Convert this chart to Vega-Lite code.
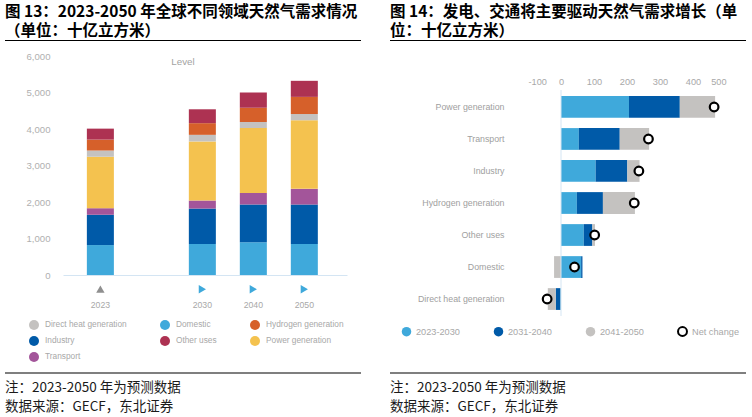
{
  "$schema": "https://vega.github.io/schema/vega-lite/v6.json",
  "padding": {"left": 5, "top": 5, "right": 5, "bottom": 0},
  "background": "white",
  "datasets": {
    "level": [
      {"year": "2023", "sector": "Domestic", "value": 820},
      {"year": "2023", "sector": "Industry", "value": 830},
      {"year": "2023", "sector": "Transport", "value": 180},
      {"year": "2023", "sector": "Power generation", "value": 1410},
      {"year": "2023", "sector": "Direct heat generation", "value": 170},
      {"year": "2023", "sector": "Hydrogen generation", "value": 300},
      {"year": "2023", "sector": "Other uses", "value": 300},
      {"year": "2030", "sector": "Domestic", "value": 850},
      {"year": "2030", "sector": "Industry", "value": 970},
      {"year": "2030", "sector": "Transport", "value": 220},
      {"year": "2030", "sector": "Power generation", "value": 1620},
      {"year": "2030", "sector": "Direct heat generation", "value": 180},
      {"year": "2030", "sector": "Hydrogen generation", "value": 320},
      {"year": "2030", "sector": "Other uses", "value": 380},
      {"year": "2040", "sector": "Domestic", "value": 900},
      {"year": "2040", "sector": "Industry", "value": 1030},
      {"year": "2040", "sector": "Transport", "value": 320},
      {"year": "2040", "sector": "Power generation", "value": 1780},
      {"year": "2040", "sector": "Direct heat generation", "value": 160},
      {"year": "2040", "sector": "Hydrogen generation", "value": 390},
      {"year": "2040", "sector": "Other uses", "value": 420},
      {"year": "2050", "sector": "Domestic", "value": 850},
      {"year": "2050", "sector": "Industry", "value": 1080},
      {"year": "2050", "sector": "Transport", "value": 430},
      {"year": "2050", "sector": "Power generation", "value": 1880},
      {"year": "2050", "sector": "Direct heat generation", "value": 170},
      {"year": "2050", "sector": "Hydrogen generation", "value": 470},
      {"year": "2050", "sector": "Other uses", "value": 440}
    ],
    "markers": [
      {"year": "2023"},
      {"year": "2030"},
      {"year": "2040"},
      {"year": "2050"}
    ],
    "growth": [
      {"sector": "Power generation", "period": "2023-2030", "value": 206},
      {"sector": "Power generation", "period": "2031-2040", "value": 154},
      {"sector": "Power generation", "period": "2041-2050", "value": 107},
      {"sector": "Transport", "period": "2023-2030", "value": 54},
      {"sector": "Transport", "period": "2031-2040", "value": 124},
      {"sector": "Transport", "period": "2041-2050", "value": 89},
      {"sector": "Industry", "period": "2023-2030", "value": 105},
      {"sector": "Industry", "period": "2031-2040", "value": 96},
      {"sector": "Industry", "period": "2041-2050", "value": 37},
      {"sector": "Hydrogen generation", "period": "2023-2030", "value": 48},
      {"sector": "Hydrogen generation", "period": "2031-2040", "value": 79},
      {"sector": "Hydrogen generation", "period": "2041-2050", "value": 97},
      {"sector": "Other uses", "period": "2023-2030", "value": 69},
      {"sector": "Other uses", "period": "2031-2040", "value": 26},
      {"sector": "Other uses", "period": "2041-2050", "value": 8},
      {"sector": "Domestic", "period": "2023-2030", "value": 61},
      {"sector": "Domestic", "period": "2031-2040", "value": 4},
      {"sector": "Domestic", "period": "2041-2050", "value": -21},
      {"sector": "Direct heat generation", "period": "2023-2030", "value": -2},
      {"sector": "Direct heat generation", "period": "2031-2040", "value": -14},
      {"sector": "Direct heat generation", "period": "2041-2050", "value": -24}
    ],
    "net": [
      {"sector": "Power generation", "net": 464},
      {"sector": "Transport", "net": 265},
      {"sector": "Industry", "net": 236},
      {"sector": "Hydrogen generation", "net": 222},
      {"sector": "Other uses", "net": 102},
      {"sector": "Domestic", "net": 41},
      {"sector": "Direct heat generation", "net": -42}
    ]
  },
  "vconcat": [
    {
      "hconcat": [
        {
          "vconcat": [
            {
              "width": 356,
              "height": 1,
              "data": {"values": []},
              "mark": "point",
              "encoding": {},
              "view": {"fill": "#000000", "stroke": null},
              "title": {
                "text": ["图 13：2023-2050 年全球不同领域天然气需求情况", "（单位：十亿立方米）"],
                "anchor": "start",
                "offset": 1
              }
            },
            {
              "width": 342,
              "height": 219,
              "title": {
                "text": "Level",
                "anchor": "middle",
                "offset": -16,
                "dx": 7,
                "font": "Liberation Sans",
                "fontSize": 9.8,
                "fontWeight": "normal",
                "color": "#a3a3a3"
              },
              "layer": [
                {
                  "data": {"name": "level"},
                  "transform": [
                    {
                      "calculate": "indexof(['Domestic', 'Industry', 'Transport', 'Power generation', 'Direct heat generation', 'Hydrogen generation', 'Other uses'], datum.sector)",
                      "as": "k"
                    }
                  ],
                  "mark": "bar",
                  "encoding": {
                    "x": {
                      "field": "year",
                      "type": "ordinal",
                      "scale": {
                        "domain": ["2023", "gap", "2030", "2040", "2050"],
                        "range": [58, 342],
                        "paddingInner": 0.47,
                        "paddingOuter": 0.52,
                        "align": 0.45
                      },
                      "axis": {
                        "title": null,
                        "labelAngle": 0,
                        "labelExpr": "datum.value === 'gap' ? '' : datum.value",
                        "domainColor": "#d4e5f3",
                        "ticks": false,
                        "labelPadding": 25,
                        "labelFontSize": 8.7,
                        "labelColor": "#a8a8a8"
                      }
                    },
                    "y": {
                      "field": "value",
                      "type": "quantitative",
                      "stack": "zero",
                      "scale": {"domain": [0, 6000], "nice": false},
                      "axis": {
                        "title": null,
                        "values": [0, 1000, 2000, 3000, 4000, 5000, 6000],
                        "format": ",.0f",
                        "offset": -58,
                        "domain": false,
                        "ticks": false,
                        "grid": false,
                        "labelOverlap": "greedy",
                        "labelSeparation": -60,
                        "labelFlush": false,
                        "labelPadding": 13,
                        "labelFontSize": 9.6,
                        "labelColor": "#b0b0b0"
                      }
                    },
                    "color": {
                      "field": "sector",
                      "type": "nominal",
                      "scale": {
                        "domain": ["Direct heat generation", "Domestic", "Hydrogen generation", "Industry", "Other uses", "Power generation", "Transport"],
                        "range": ["#c4c2c0", "#3fa9db", "#d6602a", "#005aa8", "#ad3252", "#f4c24f", "#a3559a"]
                      },
                      "legend": {
                        "title": null,
                        "orient": "none",
                        "legendX": 23,
                        "legendY": 263,
                        "columns": 3,
                        "direction": "horizontal",
                        "gridAlign": "each",
                        "symbolType": "circle",
                        "symbolSize": 100,
                        "labelFontSize": 8.3,
                        "labelColor": "#a8a8a8",
                        "labelOffset": 5,
                        "columnPadding": 32,
                        "rowPadding": 5
                      }
                    },
                    "order": {"field": "k", "type": "quantitative"}
                  }
                },
                {
                  "data": {"name": "markers"},
                  "mark": {"type": "point", "filled": true, "size": 70, "opacity": 1},
                  "encoding": {
                    "x": {"field": "year", "type": "ordinal"},
                    "y": {
                      "datum": -390,
                      "type": "quantitative",
                      "axis": {
                        "title": null,
                        "values": [0, 1000, 2000, 3000, 4000, 5000, 6000],
                        "format": ",.0f",
                        "offset": -58,
                        "domain": false,
                        "ticks": false,
                        "grid": false,
                        "labelOverlap": "greedy",
                        "labelSeparation": -60,
                        "labelFlush": false,
                        "labelPadding": 13,
                        "labelFontSize": 9.6,
                        "labelColor": "#b0b0b0"
                      }
                    },
                    "shape": {
                      "condition": {"test": "datum.year === '2023'", "value": "triangle-up"},
                      "value": "triangle-right"
                    },
                    "color": {
                      "condition": {"test": "datum.year === '2023'", "value": "#8f8f8f"},
                      "value": "#3fa9db"
                    }
                  }
                }
              ]
            }
          ],
          "spacing": 10,
          "resolve": {"scale": {"color": "independent", "fill": "independent", "stroke": "independent"}}
        },
        {
          "vconcat": [
            {
              "width": 356,
              "height": 1,
              "data": {"values": []},
              "mark": "point",
              "encoding": {},
              "view": {"fill": "#000000", "stroke": null},
              "title": {
                "text": ["图 14：发电、交通将主要驱动天然气需求增长（单", "位：十亿立方米）"],
                "anchor": "start",
                "offset": 1
              }
            },
            {
              "width": 336,
              "height": 226,
              "layer": [
                {
                  "data": {"name": "growth"},
                  "mark": "bar",
                  "encoding": {
                    "y": {
                      "field": "sector",
                      "type": "nominal",
                      "scale": {
                        "domain": ["Power generation", "Transport", "Industry", "Hydrogen generation", "Other uses", "Domestic", "Direct heat generation"],
                        "paddingInner": 0.32,
                        "paddingOuter": 0.19
                      },
                      "axis": {
                        "title": null,
                        "offset": -138,
                        "domain": false,
                        "ticks": false,
                        "labelPadding": 24,
                        "labelFontSize": 8.8,
                        "labelColor": "#a0a0a0"
                      }
                    },
                    "x": {
                      "field": "value",
                      "type": "quantitative",
                      "stack": "zero",
                      "scale": {"domain": [-100, 500], "nice": false, "range": [138, 336]},
                      "axis": {
                        "title": null,
                        "orient": "top",
                        "values": [-100, 0, 100, 200, 300, 400, 500],
                        "labelExpr": "'' + datum.value",
                        "labelOverlap": false,
                        "domain": false,
                        "ticks": false,
                        "grid": false,
                        "labelPadding": 4,
                        "labelFontSize": 9.2,
                        "labelColor": "#a8a8a8"
                      }
                    },
                    "fill": {
                      "field": "period",
                      "type": "nominal",
                      "scale": {
                        "domain": ["2023-2030", "2031-2040", "2041-2050"],
                        "range": ["#3fa9db", "#005aa8", "#c4c2c0"]
                      },
                      "legend": {
                        "title": null,
                        "orient": "none",
                        "legendX": 11,
                        "legendY": 236,
                        "columns": 3,
                        "direction": "horizontal",
                        "gridAlign": "all",
                        "symbolType": "circle",
                        "symbolSize": 90,
                        "labelFontSize": 9.2,
                        "labelColor": "#a8a8a8",
                        "labelOffset": 4,
                        "columnPadding": 33
                      }
                    }
                  }
                },
                {
                  "data": {"values": [{}]},
                  "mark": {"type": "rule", "color": "#d4e5f3", "strokeWidth": 1},
                  "encoding": {"x": {"datum": 0, "type": "quantitative"}}
                },
                {
                  "data": {"name": "net"},
                  "mark": {"type": "point", "filled": false, "fill": "#ffffff", "strokeWidth": 2.2, "size": 75, "opacity": 1},
                  "encoding": {
                    "y": {"field": "sector", "type": "nominal"},
                    "x": {"field": "net", "type": "quantitative"},
                    "stroke": {
                      "datum": "Net change",
                      "scale": {"domain": ["Net change"], "range": ["#000000"]},
                      "legend": {
                        "title": null,
                        "orient": "none",
                        "legendX": 287,
                        "legendY": 236,
                        "symbolType": "circle",
                        "symbolSize": 80,
                        "symbolStrokeWidth": 2,
                        "symbolFillColor": "#ffffff",
                        "labelFontSize": 9.2,
                        "labelColor": "#a8a8a8",
                        "labelOffset": 4
                      }
                    }
                  }
                }
              ]
            }
          ],
          "spacing": 36,
          "resolve": {"scale": {"color": "independent", "fill": "independent", "stroke": "independent"}}
        }
      ],
      "spacing": 29,
      "resolve": {"scale": {"color": "independent", "fill": "independent", "stroke": "independent"}}
    },
    {
      "hconcat": [
        {
          "width": 356,
          "height": 1,
          "data": {"values": []},
          "mark": "point",
          "encoding": {},
          "view": {"fill": "#000000", "stroke": null},
          "title": {
            "text": ["注：2023-2050 年为预测数据", "数据来源：GECF，东北证券"],
            "orient": "bottom",
            "anchor": "start",
            "offset": 7.5,
            "fontSize": 13.5,
            "fontWeight": "normal",
            "lineHeight": 19,
            "color": "#1a1a1a"
          }
        },
        {
          "width": 356,
          "height": 1,
          "data": {"values": []},
          "mark": "point",
          "encoding": {},
          "view": {"fill": "#000000", "stroke": null},
          "title": {
            "text": ["注：2023-2050 年为预测数据", "数据来源：GECF，东北证券"],
            "orient": "bottom",
            "anchor": "start",
            "offset": 7.5,
            "fontSize": 13.5,
            "fontWeight": "normal",
            "lineHeight": 19,
            "color": "#1a1a1a"
          }
        }
      ],
      "spacing": 29
    }
  ],
  "spacing": 10.5,
  "resolve": {"scale": {"color": "independent", "fill": "independent", "stroke": "independent"}},
  "config": {
    "view": {"stroke": null},
    "font": "Liberation Sans",
    "axis": {"labelFont": "Liberation Sans"},
    "legend": {"labelFont": "Liberation Sans"},
    "title": {
      "font": "Noto Sans CJK SC",
      "fontSize": 15.5,
      "fontWeight": "bold",
      "lineHeight": 18.5,
      "color": "#000000"
    }
  }
}
